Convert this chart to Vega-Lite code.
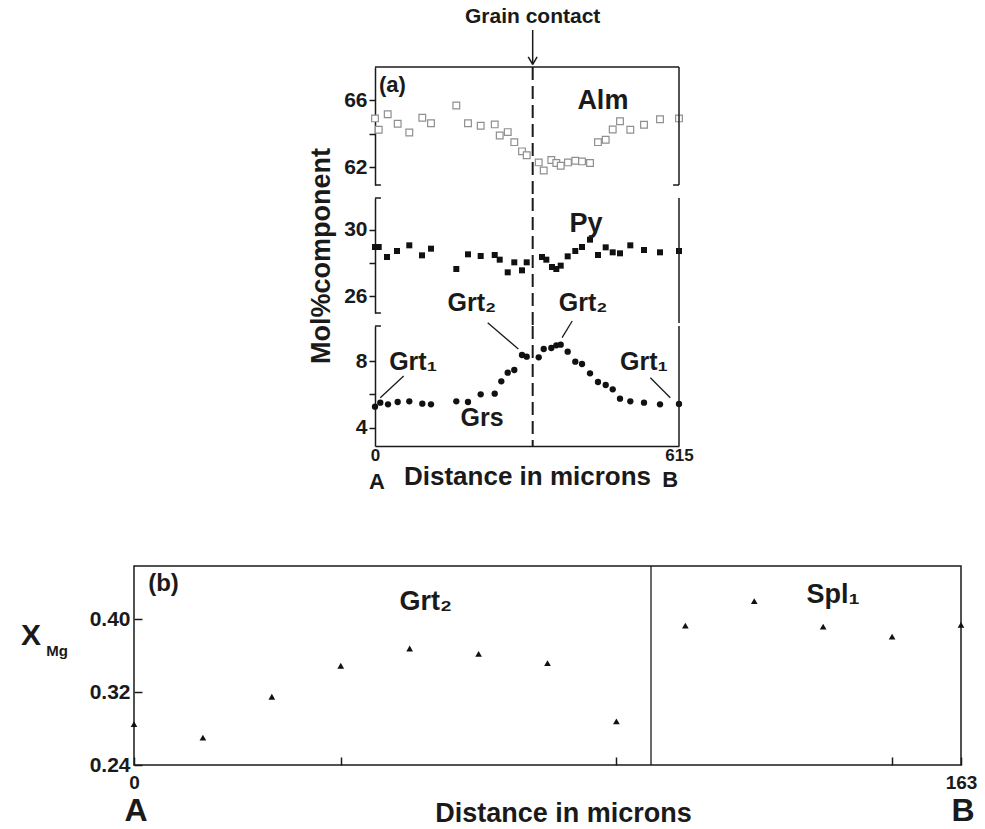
{
  "$schema": "https://vega.github.io/schema/vega-lite/v6.json",
  "padding": {"left": 20, "top": 5, "right": 0, "bottom": 0},
  "background": "white",
  "config": {
    "font": "Liberation Sans",
    "view": {"stroke": null},
    "axis": {"labelFont": "Liberation Sans", "titleFont": "Liberation Sans", "labelFontWeight": "bold", "titleFontWeight": "bold", "labelColor": "#1a1a1a", "titleColor": "#1a1a1a", "domainColor": "#1a1a1a", "tickColor": "#1a1a1a", "domainWidth": 1.5, "tickWidth": 1.5, "grid": false},
    "text": {"font": "Liberation Sans", "fontWeight": "bold", "color": "#1a1a1a", "baseline": "middle"},
    "rule": {"color": "#1a1a1a", "strokeWidth": 1.5}
  },
  "datasets": {
    "alm": [
      {"d": 0, "v": 64.93}, {"d": 7.5, "v": 64.25}, {"d": 25.7, "v": 65.18}, {"d": 45.9, "v": 64.61}, {"d": 69.4, "v": 64.09},
      {"d": 95.7, "v": 64.97}, {"d": 113.3, "v": 64.64}, {"d": 164.5, "v": 65.7}, {"d": 188.1, "v": 64.64}, {"d": 213.8, "v": 64.49},
      {"d": 242.2, "v": 64.57}, {"d": 252.3, "v": 63.91}, {"d": 268.5, "v": 64.11}, {"d": 281.8, "v": 63.51}, {"d": 297.4, "v": 62.96},
      {"d": 306.9, "v": 62.73}, {"d": 331.2, "v": 62.3}, {"d": 341.3, "v": 61.82}, {"d": 356.7, "v": 62.44}, {"d": 366.8, "v": 62.26},
      {"d": 375.7, "v": 62.1}, {"d": 390.4, "v": 62.3}, {"d": 405.2, "v": 62.4}, {"d": 418.8, "v": 62.36}, {"d": 435.0, "v": 62.26},
      {"d": 451.1, "v": 63.51}, {"d": 466.7, "v": 63.65}, {"d": 480.9, "v": 64.27}, {"d": 495.6, "v": 64.76}, {"d": 516.5, "v": 64.25},
      {"d": 544.2, "v": 64.55}, {"d": 576.6, "v": 64.88}, {"d": 615, "v": 64.93}
    ],
    "py": [
      {"d": 0, "v": 28.96}, {"d": 7.5, "v": 28.96}, {"d": 24.3, "v": 28.36}, {"d": 44.5, "v": 28.72}, {"d": 69.4, "v": 29.06},
      {"d": 95.1, "v": 28.46}, {"d": 113.3, "v": 28.86}, {"d": 164.5, "v": 27.64}, {"d": 188.1, "v": 28.52}, {"d": 213.8, "v": 28.42},
      {"d": 242.2, "v": 28.48}, {"d": 252.3, "v": 28.2}, {"d": 268.5, "v": 27.44}, {"d": 281.8, "v": 28.04}, {"d": 297.4, "v": 27.56},
      {"d": 306.9, "v": 28.04}, {"d": 337.9, "v": 28.36}, {"d": 346.6, "v": 28.2}, {"d": 358.1, "v": 27.76}, {"d": 366.8, "v": 27.64},
      {"d": 375.7, "v": 27.84}, {"d": 389.8, "v": 28.4}, {"d": 405.2, "v": 28.72}, {"d": 418.8, "v": 28.96}, {"d": 435, "v": 29.4},
      {"d": 451.1, "v": 28.48}, {"d": 466.7, "v": 28.94}, {"d": 480.9, "v": 28.64}, {"d": 495.6, "v": 28.58}, {"d": 516.5, "v": 29.06},
      {"d": 544.2, "v": 28.78}, {"d": 576.6, "v": 28.64}, {"d": 615, "v": 28.72}
    ],
    "grs": [
      {"d": 0, "v": 5.26}, {"d": 10.7, "v": 5.5}, {"d": 26.3, "v": 5.4}, {"d": 45.9, "v": 5.54}, {"d": 69.4, "v": 5.58},
      {"d": 95.7, "v": 5.44}, {"d": 113.3, "v": 5.4}, {"d": 164.5, "v": 5.58}, {"d": 188.1, "v": 5.54}, {"d": 213.8, "v": 6.0},
      {"d": 242.2, "v": 6.04}, {"d": 255.5, "v": 6.78}, {"d": 268.5, "v": 7.3}, {"d": 281.8, "v": 7.46}, {"d": 297.4, "v": 8.36},
      {"d": 306.9, "v": 8.26}, {"d": 331.2, "v": 8.22}, {"d": 341.3, "v": 8.72}, {"d": 356.7, "v": 8.78}, {"d": 366.8, "v": 8.94},
      {"d": 375.7, "v": 8.98}, {"d": 389.8, "v": 8.56}, {"d": 405.2, "v": 7.96}, {"d": 418.8, "v": 7.82}, {"d": 435, "v": 7.26},
      {"d": 451.1, "v": 6.74}, {"d": 466.7, "v": 6.56}, {"d": 480.9, "v": 6.3}, {"d": 495.6, "v": 5.74}, {"d": 516.5, "v": 5.58},
      {"d": 544.2, "v": 5.5}, {"d": 576.6, "v": 5.4}, {"d": 615, "v": 5.42}
    ],
    "xmg": [
      {"d": 0, "v": 0.285}, {"d": 13.58, "v": 0.27}, {"d": 27.17, "v": 0.315}, {"d": 40.75, "v": 0.349}, {"d": 54.33, "v": 0.368},
      {"d": 67.92, "v": 0.362}, {"d": 81.5, "v": 0.352}, {"d": 95.08, "v": 0.288}, {"d": 108.67, "v": 0.393}, {"d": 122.25, "v": 0.42},
      {"d": 135.83, "v": 0.392}, {"d": 149.42, "v": 0.381}, {"d": 163, "v": 0.394}
    ],
    "one": [{}]
  },
  "spacing": 71,
  "vconcat": [
    {
      "spacing": 0,
      "hconcat": [
        {
          "width": 173, "height": 10,
          "data": {"name": "one"},
          "mark": {"type": "point", "opacity": 0}
        },
        {
          "spacing": 13,
          "bounds": "flush",
          "vconcat": [
            {
              "width": 304, "height": 118,
              "layer": [
                {
                  "data": {"name": "alm"},
                  "mark": {"type": "point", "shape": "square", "filled": true, "fill": "white", "stroke": "#8f8f8f", "strokeWidth": 1.2, "size": 45, "opacity": 1},
                  "encoding": {
                    "x": {"field": "d", "type": "quantitative", "scale": {"domain": [0, 615], "nice": false, "zero": false}, "axis": null},
                    "y": {"field": "v", "type": "quantitative", "scale": {"domain": [60.95, 68], "nice": false, "zero": false},
                      "axis": {"values": [62, 64, 66], "labelExpr": "datum.value == 64 ? '' : datum.label", "title": null, "tickSize": 6, "labelFontSize": 21, "labelPadding": 2}}
                  }
                },
                {"data": {"name": "one"}, "mark": {"type": "rule", "strokeDash": [13, 6], "strokeWidth": 2},
                  "encoding": {"x": {"datum": 319, "axis": null}, "y": {"datum": 68}, "y2": {"datum": 60.2}}},
                {"data": {"name": "one"}, "mark": "rule",
                  "encoding": {"x": {"datum": 0, "axis": null}, "x2": {"datum": 615}, "y": {"datum": 68}}},
                {"data": {"name": "one"}, "mark": "rule",
                  "encoding": {"x": {"datum": 615, "axis": null}, "y": {"datum": 60.95}, "y2": {"datum": 68}}},
                {"data": {"name": "one"}, "mark": "rule",
                  "encoding": {"x": {"datum": 0, "axis": null}, "x2": {"datum": 12}, "y": {"datum": 60.95}}},
                {"data": {"name": "one"}, "mark": "rule",
                  "encoding": {"x": {"datum": 603, "axis": null}, "x2": {"datum": 615}, "y": {"datum": 60.95}}},
                {"data": {"name": "one"}, "mark": "rule",
                  "encoding": {"x": {"datum": 319, "axis": null}, "y": {"datum": 70.21}, "y2": {"datum": 68.15}}},
                {"data": {"name": "one"}, "mark": "rule",
                  "encoding": {"x": {"datum": 310, "axis": null}, "x2": {"datum": 319}, "y": {"datum": 68.6}, "y2": {"datum": 68.15}}},
                {"data": {"name": "one"}, "mark": "rule",
                  "encoding": {"x": {"datum": 328, "axis": null}, "x2": {"datum": 319}, "y": {"datum": 68.6}, "y2": {"datum": 68.15}}},
                {"data": {"name": "one"}, "mark": {"type": "text", "text": "Grain contact", "fontSize": 21},
                  "encoding": {"x": {"datum": 319, "axis": null}, "y": {"datum": 70.99}}},
                {"data": {"name": "one"}, "mark": {"type": "text", "text": "(a)", "fontSize": 22, "align": "left"},
                  "encoding": {"x": {"datum": 8, "axis": null}, "y": {"datum": 66.9}}},
                {"data": {"name": "one"}, "mark": {"type": "text", "text": "Alm", "fontSize": 27},
                  "encoding": {"x": {"datum": 461, "axis": null}, "y": {"datum": 65.94}}}
              ]
            },
            {
              "width": 304, "height": 115,
              "layer": [
                {
                  "data": {"name": "py"},
                  "mark": {"type": "point", "shape": "square", "filled": true, "color": "#111111", "size": 36, "opacity": 1},
                  "encoding": {
                    "x": {"field": "d", "type": "quantitative", "scale": {"domain": [0, 615], "nice": false, "zero": false}, "axis": null},
                    "y": {"field": "v", "type": "quantitative", "scale": {"domain": [25, 31.9], "nice": false, "zero": false},
                      "axis": {"values": [26, 28, 30], "labelExpr": "datum.value == 28 ? '' : datum.label", "title": "Mol%component", "titleFontSize": 27, "titlePadding": 8, "tickSize": 6, "labelFontSize": 21, "labelPadding": 2}}
                  }
                },
                {"data": {"name": "one"}, "mark": {"type": "rule", "strokeDash": [13, 6], "strokeWidth": 2},
                  "encoding": {"x": {"datum": 319, "axis": null}, "y": {"datum": 31.9}, "y2": {"datum": 24.2}}},
                {"data": {"name": "one"}, "mark": "rule",
                  "encoding": {"x": {"datum": 615, "axis": null}, "y": {"datum": 24.4}, "y2": {"datum": 31.9}}},
                {"data": {"name": "one"}, "mark": "rule",
                  "encoding": {"x": {"datum": 0, "axis": null}, "x2": {"datum": 12}, "y": {"datum": 31.9}}},
                {"data": {"name": "one"}, "mark": "rule",
                  "encoding": {"x": {"datum": 0, "axis": null}, "x2": {"datum": 12}, "y": {"datum": 25}}},
                {"data": {"name": "one"}, "mark": {"type": "text", "text": "Py", "fontSize": 27},
                  "encoding": {"x": {"datum": 427, "axis": null}, "y": {"datum": 30.34}}},
                {"data": {"name": "one"}, "mark": {"type": "text", "text": "Grt₂", "fontSize": 25},
                  "encoding": {"x": {"datum": 196, "axis": null}, "y": {"datum": 25.6}}},
                {"data": {"name": "one"}, "mark": {"type": "text", "text": "Grt₂", "fontSize": 25},
                  "encoding": {"x": {"datum": 421, "axis": null}, "y": {"datum": 25.6}}}
              ]
            },
            {
              "width": 304, "height": 120,
              "layer": [
                {
                  "data": {"name": "grs"},
                  "mark": {"type": "point", "shape": "circle", "filled": true, "color": "#111111", "size": 40, "opacity": 1},
                  "encoding": {
                    "x": {"field": "d", "type": "quantitative", "scale": {"domain": [0, 615], "nice": false, "zero": false},
                      "axis": {"values": [0, 615], "title": "Distance in microns", "titleFontSize": 26, "titlePadding": 0, "ticks": false, "labelFontSize": 17, "labelPadding": 1, "labelFlush": false}},
                    "y": {"field": "v", "type": "quantitative", "scale": {"domain": [2.9, 10.1], "nice": false, "zero": false},
                      "axis": {"values": [4, 6, 8], "labelExpr": "datum.value == 6 ? '' : datum.label", "title": null, "tickSize": 6, "labelFontSize": 21, "labelPadding": 2}}
                  }
                },
                {"data": {"name": "one"}, "mark": {"type": "rule", "strokeDash": [13, 6], "strokeWidth": 2},
                  "encoding": {"x": {"datum": 319}, "y": {"datum": 10.1}, "y2": {"datum": 2.9}}},
                {"data": {"name": "one"}, "mark": "rule",
                  "encoding": {"x": {"datum": 615}, "y": {"datum": 2.9}, "y2": {"datum": 10.1}}},
                {"data": {"name": "one"}, "mark": "rule",
                  "encoding": {"x": {"datum": 0}, "x2": {"datum": 12}, "y": {"datum": 10.1}}},
                {"data": {"name": "one"}, "mark": {"type": "rule", "strokeWidth": 1.3},
                  "encoding": {"x": {"datum": 228}, "x2": {"datum": 290}, "y": {"datum": 10.3}, "y2": {"datum": 8.72}}},
                {"data": {"name": "one"}, "mark": {"type": "rule", "strokeWidth": 1.3},
                  "encoding": {"x": {"datum": 399}, "x2": {"datum": 378.5}, "y": {"datum": 10.4}, "y2": {"datum": 9.4}}},
                {"data": {"name": "one"}, "mark": {"type": "rule", "strokeWidth": 1.3},
                  "encoding": {"x": {"datum": 58}, "x2": {"datum": 10.7}, "y": {"datum": 7.1}, "y2": {"datum": 5.8}}},
                {"data": {"name": "one"}, "mark": {"type": "rule", "strokeWidth": 1.3},
                  "encoding": {"x": {"datum": 557}, "x2": {"datum": 597.4}, "y": {"datum": 7.0}, "y2": {"datum": 5.8}}},
                {"data": {"name": "one"}, "mark": {"type": "text", "text": "Grt₁", "fontSize": 25},
                  "encoding": {"x": {"datum": 77}, "y": {"datum": 7.94}}},
                {"data": {"name": "one"}, "mark": {"type": "text", "text": "Grt₁", "fontSize": 25},
                  "encoding": {"x": {"datum": 544}, "y": {"datum": 7.94}}},
                {"data": {"name": "one"}, "mark": {"type": "text", "text": "Grs", "fontSize": 25},
                  "encoding": {"x": {"datum": 216.5}, "y": {"datum": 4.6}}},
                {"data": {"name": "one"}, "mark": {"type": "text", "text": "A", "fontSize": 22, "baseline": "alphabetic"},
                  "encoding": {"x": {"datum": 4}, "y": {"datum": 0.35}}},
                {"data": {"name": "one"}, "mark": {"type": "text", "text": "B", "fontSize": 22, "baseline": "alphabetic"},
                  "encoding": {"x": {"datum": 597}, "y": {"datum": 0.42}}}
              ]
            }
          ]
        }
      ]
    },
    {
      "width": 827, "height": 199,
      "view": {"stroke": "#1a1a1a", "strokeWidth": 1.5},
      "layer": [
        {
          "data": {"name": "xmg"},
          "mark": {"type": "point", "shape": "triangle-up", "filled": true, "color": "#111111", "size": 45, "opacity": 1},
          "encoding": {
            "x": {"field": "d", "type": "quantitative", "scale": {"domain": [0, 163], "nice": false, "zero": false},
              "axis": {"values": [0, 40.75, 95.08, 149.42, 163], "labelExpr": "datum.value == 0 || datum.value == 163 ? datum.label : ''", "domain": false, "tickSize": -8, "labelPadding": 16, "labelFontSize": 19, "labelFlush": false, "title": "Distance in microns", "titleFontSize": 27, "titlePadding": 8, "titleX": 429}},
            "y": {"field": "v", "type": "quantitative", "scale": {"domain": [0.24, 0.4586], "nice": false, "zero": false},
              "axis": {"values": [0.24, 0.28, 0.32, 0.36, 0.4, 0.44], "labelExpr": "abs(datum.value - 0.28) < 0.001 || abs(datum.value - 0.36) < 0.001 || abs(datum.value - 0.44) < 0.001 ? '' : format(datum.value, '.2f')", "domain": false, "tickSize": -8, "labelPadding": 12, "labelFontSize": 21, "title": null}}
          }
        },
        {"data": {"name": "one"}, "mark": {"type": "rule", "strokeWidth": 1.3},
          "encoding": {"x": {"datum": 101.9}, "y": {"datum": 0.24}, "y2": {"datum": 0.4586}}},
        {"data": {"name": "one"}, "mark": {"type": "text", "text": "(b)", "fontSize": 24, "align": "left"},
          "encoding": {"x": {"datum": 2.8}, "y": {"datum": 0.439}}},
        {"data": {"name": "one"}, "mark": {"type": "text", "text": "Grt₂", "fontSize": 27},
          "encoding": {"x": {"datum": 57.5}, "y": {"datum": 0.419}}},
        {"data": {"name": "one"}, "mark": {"type": "text", "text": "Spl₁", "fontSize": 27},
          "encoding": {"x": {"datum": 137.8}, "y": {"datum": 0.427}}},
        {"data": {"name": "one"}, "mark": {"type": "text", "text": "A", "fontSize": 32, "baseline": "alphabetic"},
          "encoding": {"x": {"datum": 0.4}, "y": {"datum": 0.1781}}},
        {"data": {"name": "one"}, "mark": {"type": "text", "text": "B", "fontSize": 32, "baseline": "alphabetic"},
          "encoding": {"x": {"datum": 163.4}, "y": {"datum": 0.1781}}},
        {"data": {"name": "one"}, "mark": {"type": "text", "text": "X", "fontSize": 30},
          "encoding": {"x": {"datum": -20.3}, "y": {"datum": 0.382}}},
        {"data": {"name": "one"}, "mark": {"type": "text", "text": "Mg", "fontSize": 15, "align": "left"},
          "encoding": {"x": {"datum": -17.3}, "y": {"datum": 0.365}}}
      ]
    }
  ]
}
